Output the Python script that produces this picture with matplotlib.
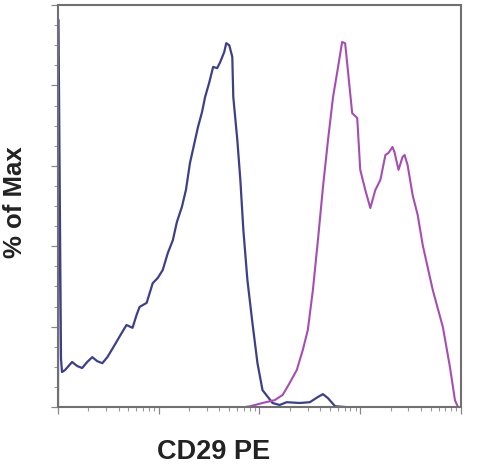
"""
CD29 PE histogram overlay (% of Max)
"""
import numpy as np
import matplotlib.pyplot as plt
from matplotlib.ticker import FixedLocator, MultipleLocator, NullFormatter

plt.rcParams['font.family'] = ['Liberation Sans', 'DejaVu Sans']

# x in decades of the display scale (0 .. 4), y in % of max
blue_x = [0.00, 0.005, 0.03, 0.04, 0.07, 0.14, 0.19, 0.24, 0.29, 0.34, 0.39, 0.44, 0.49,
          0.55, 0.62, 0.68, 0.74, 0.78, 0.81, 0.88, 0.94, 0.99, 1.04, 1.09, 1.14,
          1.18, 1.23, 1.27, 1.31, 1.35, 1.39, 1.43, 1.46, 1.50, 1.54, 1.58, 1.61,
          1.65, 1.67, 1.70, 1.73, 1.74, 1.78, 1.81, 1.84, 1.88, 1.93, 1.98, 2.03,
          2.13, 2.20, 2.27, 2.40, 2.50, 2.58, 2.63, 2.68, 2.75, 2.85]
blue_y = [0.0, 96.3, 12.0, 8.7, 9.2, 11.2, 10.2, 9.7, 11.2, 12.4, 11.4, 10.9, 12.4,
          14.9, 17.9, 20.4, 19.7, 22.9, 24.9, 25.9, 30.8, 32.1, 34.1, 38.3, 41.5,
          46.0, 49.8, 54.0, 60.7, 65.2, 69.7, 73.4, 77.1, 80.6, 84.6, 84.3, 85.8,
          88.3, 90.5, 90.0, 87.1, 77.1, 66.4, 56.5, 44.0, 31.6, 20.9, 10.9, 4.2,
          1.0, 0.5, 1.2, 1.0, 1.2, 2.5, 3.2, 2.2, 0.2, 0.0]

magenta_x = [1.86, 1.91, 2.03, 2.15, 2.23, 2.30, 2.37, 2.43, 2.48, 2.53, 2.58, 2.63,
             2.68, 2.73, 2.78, 2.82, 2.85, 2.88, 2.92, 2.97, 3.00, 3.05, 3.10, 3.15,
             3.20, 3.25, 3.28, 3.32, 3.34, 3.38, 3.42, 3.44, 3.47, 3.52, 3.57, 3.62,
             3.72, 3.82, 3.89, 3.94, 3.97]
magenta_y = [0.0, 0.2, 1.0, 1.7, 3.0, 6.0, 9.2, 14.2, 19.2, 29.1, 41.5, 54.7,
             66.4, 77.1, 84.6, 90.8, 90.5, 83.1, 73.1, 71.9, 59.0, 54.0, 49.5, 54.0,
             56.5, 62.7, 63.2, 64.7, 63.4, 59.0, 62.2, 62.7, 60.2, 52.7, 47.8, 40.3,
             29.1, 19.9, 10.0, 1.7, 0.0]

decades = [0, 1, 2, 3, 4]
minor_x = [d + np.log10(k) for d in decades[:-1] for k in range(2, 10)]

fig = plt.figure(figsize=(4.8, 4.65), dpi=100)
ax = fig.add_axes([0.1208, 0.1247, 0.8396, 0.8645])

ax.plot(blue_x, blue_y, color='#3d4088', linewidth=1.6, solid_joinstyle='round')
ax.plot(magenta_x, magenta_y, color='#a54db2', linewidth=1.5, solid_joinstyle='round')

ax.set_xlim(0, 4)
ax.set_ylim(0, 100)

ax.xaxis.set_major_locator(FixedLocator(decades))
ax.xaxis.set_minor_locator(FixedLocator(minor_x))
ax.yaxis.set_major_locator(MultipleLocator(20))
ax.yaxis.set_minor_locator(MultipleLocator(5))
ax.xaxis.set_major_formatter(NullFormatter())
ax.yaxis.set_major_formatter(NullFormatter())

ax.tick_params(which='major', length=5, width=0.9, color='#888888', direction='out')
ax.tick_params(which='minor', length=3, width=0.8, color='#999999', direction='out')

for side in ax.spines.values():
    side.set_color('#707070')
    side.set_linewidth(1.5)

ax.set_xlabel('CD29 PE', fontsize=19.5, fontweight='bold', color='#222222')
ax.set_ylabel('% of Max', fontsize=18.5, fontweight='bold', color='#222222')
ax.xaxis.set_label_coords(0.386, -0.08)
ax.yaxis.set_label_coords(-0.078, 0.51)

fig.savefig('out.png', dpi=100)
